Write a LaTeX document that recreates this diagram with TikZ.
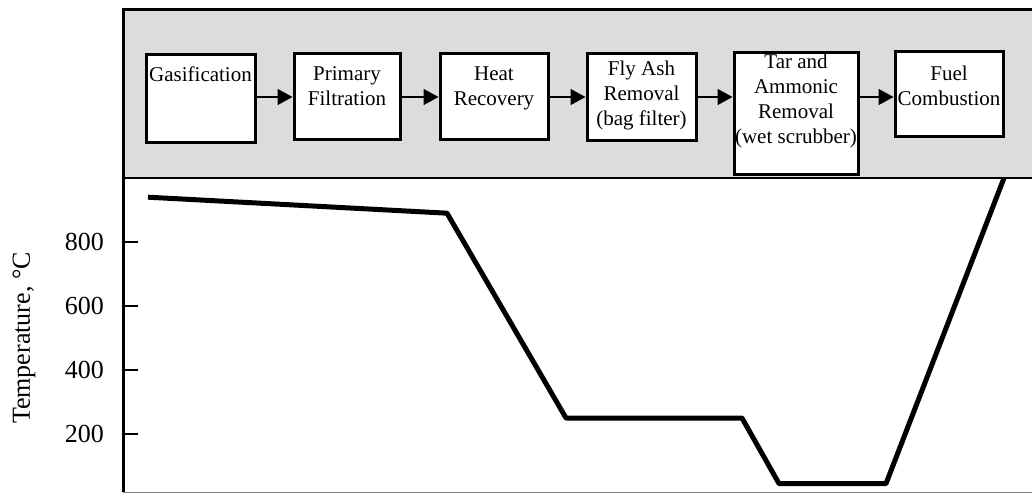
\documentclass[tikz,border=0pt]{standalone}
\usepackage{fontspec}
\setmainfont{Liberation Serif}
\usetikzlibrary{arrows.meta}

\definecolor{bandgray}{RGB}{220,220,220}
\newcommand{\boxfont}{\fontsize{21}{25}\selectfont}
\newcommand{\axisfont}{\fontsize{26}{30}\selectfont}

\tikzset{
  stage/.style={draw, line width=3pt, fill=white, anchor=north west, inner sep=0pt},
  stagetext/.style={align=center, anchor=north, inner sep=0pt, font=\boxfont},
  flow/.style={line width=1.5pt, -{Triangle[length=15pt,width=16pt]}},
}

\begin{document}
\begin{tikzpicture}[x=1pt, y=-1pt]
      \useasboundingbox (0,0) rectangle (1032,494);
      \clip (0,0) rectangle (1032,494);

      % frame and grey band
      \fill[bandgray] (123,10) rectangle (1040,178);
      \draw[line width=1.5pt] (123,178) -- (1040,178);
      \draw[gray, line width=1pt] (123,492) -- (1040,492);
      \draw[line width=3pt] (1040,10) -- (123,10) -- (123,492);

      % process stages
      \node[stage, minimum width=109pt, minimum height=88pt] (G) at (144.5,53.5) {};
      \node[stage, minimum width=106pt, minimum height=86pt] (P) at (292.5,52.5) {};
      \node[stage, minimum width=108pt, minimum height=86pt] (H) at (438.5,52.5) {};
      \node[stage, minimum width=109pt, minimum height=87pt] (F) at (585.5,52.5) {};
      \node[stage, minimum width=124pt, minimum height=122pt] (T) at (732.5,51.5) {};
      \node[stage, minimum width=108pt, minimum height=85pt] (C) at (893.5,50.5) {};

      \node[stagetext] (Gt) at ([yshift=-13pt]G.north) {Gasification};
      \node[stagetext] (Pt) at ([yshift=-14pt]P.north) {Primary\\Filtration};
      \node[stagetext] (Ht) at ([yshift=-14pt]H.north) {Heat\\Recovery};
      \node[stagetext] (Ft) at ([yshift=-8pt]F.north)  {Fly Ash\\Removal\\(bag filter)};
      \node[stagetext] (Tt) at ([yshift=-2pt]T.north)  {Tar and\\Ammonic\\Removal\\(wet scrubber)};
      \node[stagetext] (Ct) at ([yshift=-15pt]C.north) {Fuel\\Combustion};

      \coordinate (line) at (0,97);
      \draw[flow] (G.east |- line) -- (P.west |- line);
      \draw[flow] (P.east |- line) -- (H.west |- line);
      \draw[flow] (H.east |- line) -- (F.west |- line);
      \draw[flow] (F.east |- line) -- (T.west |- line);
      \draw[flow] (T.east |- line) -- (C.west |- line);

      % temperature profile, y in degrees C
      \begin{scope}[shift={(0,498)}, y=0.32pt]
        \foreach \t in {200,400,600,800} {
          \draw[line width=1.5pt] (123,\t) -- (138,\t);
          \node[anchor=east, font=\axisfont, inner sep=0pt] (tick\t) at (104,\t) {\t};
        }
        \draw[line width=5pt, line join=round]
          (148,940) -- (447,890) -- (566,250) -- (742,250)
          -- (779,45) -- (886,45) -- (1004,1000);
      \end{scope}

      \node[rotate=90, font=\axisfont, inner sep=0pt] (ylabel) at (24,338) {Temperature, °C};
\end{tikzpicture}
\end{document}
